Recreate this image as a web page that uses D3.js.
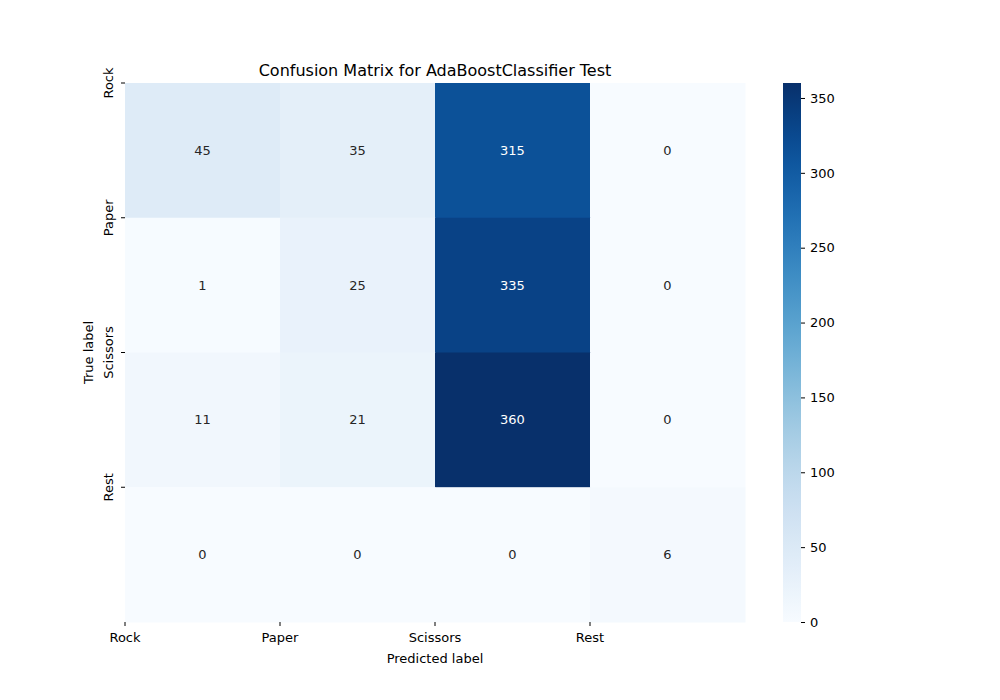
<!DOCTYPE html>
<html><head><meta charset="utf-8">
<script src="https://cdn.jsdelivr.net/npm/d3@7.9.0/dist/d3.min.js"></script>
<style>body{margin:0;background:#fff}svg{font-family:"DejaVu Sans",sans-serif}</style>
</head><body><div id="chart"></div>
<script>
const labels = ['Rock', 'Paper', 'Scissors', 'Rest'];
const matrix = [
    [45, 35, 315, 0],
    [1, 25, 335, 0],
    [11, 21, 360, 0],
    [0, 0, 0, 6],
];
const cbTicks = [0, 50, 100, 150, 200, 250, 300, 350];

const width = 1000, height = 700;
const area = { left: 125, right: 745, top: 83, bottom: 622 };

const svg = d3.select('#chart').append('svg')
    .attr('width', width).attr('height', height);

const x = d3.scaleBand().domain(labels).range([area.left, area.right]);
const y = d3.scaleBand().domain(labels).range([area.top, area.bottom]);
const vmax = d3.max(matrix.flat());
const color = d3.scaleSequential(d3.interpolateBlues).domain([0, vmax]);

const cells = matrix.flatMap((row, i) => row.map((v, j) => ({ r: labels[i], c: labels[j], v })));

svg.append('g').selectAll('rect').data(cells).join('rect')
    .attr('x', d => x(d.c)).attr('y', d => y(d.r))
    .attr('width', x.bandwidth() + 0.5).attr('height', y.bandwidth() + 0.5)
    .attr('fill', d => color(d.v));

svg.append('g').selectAll('text').data(cells).join('text')
    .attr('x', d => x(d.c) + x.bandwidth() / 2)
    .attr('y', d => y(d.r) + y.bandwidth() / 2)
    .attr('text-anchor', 'middle').attr('dominant-baseline', 'central')
    .attr('font-size', 13)
    .attr('fill', d => d.v > vmax / 2 ? '#fff' : '#262626')
    .text(d => d.v);

// ticks at left edges of cells (as in the reference)
const xAxis = svg.append('g').attr('transform', `translate(0,${area.bottom})`);
labels.forEach(l => {
    xAxis.append('line').attr('x1', x(l)).attr('x2', x(l)).attr('y1', 0).attr('y2', 4).attr('stroke', '#000');
    xAxis.append('text').attr('x', x(l)).attr('y', 20).attr('text-anchor', 'middle').attr('font-size', 13).text(l);
});
const yAxis = svg.append('g').attr('transform', `translate(${area.left},0)`);
labels.forEach(l => {
    yAxis.append('line').attr('x1', -4).attr('x2', 0).attr('y1', y(l)).attr('y2', y(l)).attr('stroke', '#000');
    yAxis.append('text').attr('transform', `translate(-12,${y(l)}) rotate(-90)`)
        .attr('text-anchor', 'middle').attr('font-size', 13).text(l);
});

svg.append('text').attr('x', (area.left + area.right) / 2).attr('y', 76)
    .attr('text-anchor', 'middle').attr('font-size', 16).text('Confusion Matrix for AdaBoostClassifier Test');
svg.append('text').attr('x', (area.left + area.right) / 2).attr('y', 663)
    .attr('text-anchor', 'middle').attr('font-size', 13).text('Predicted label');
svg.append('text').attr('transform', `translate(93,${(area.top + area.bottom) / 2}) rotate(-90)`)
    .attr('text-anchor', 'middle').attr('font-size', 13).text('True label');

// colorbar
const cb = { x: 783, w: 18 };
const cy = d3.scaleLinear().domain([0, vmax]).range([area.bottom, area.top]);
const defs = svg.append('defs');
const grad = defs.append('linearGradient').attr('id', 'cbg').attr('x1', 0).attr('x2', 0).attr('y1', 1).attr('y2', 0);
d3.range(0, 1.001, 0.05).forEach(t => grad.append('stop').attr('offset', t).attr('stop-color', color(t * vmax)));
svg.append('rect').attr('x', cb.x).attr('y', area.top).attr('width', cb.w)
    .attr('height', area.bottom - area.top).attr('fill', 'url(#cbg)');
svg.append('g').attr('transform', `translate(${cb.x + cb.w},0)`)
    .call(d3.axisRight(cy).tickValues(cbTicks).tickSize(4).tickPadding(5))
    .call(g => g.select('.domain').remove())
    .call(g => g.selectAll('text').attr('font-size', 13).attr('font-family', '"DejaVu Sans",sans-serif'));
</script></body></html>
